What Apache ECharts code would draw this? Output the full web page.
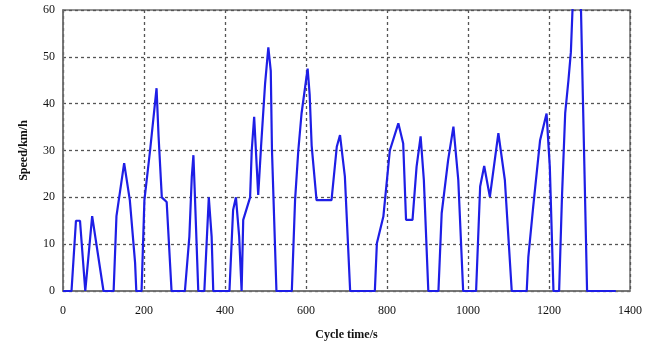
<!DOCTYPE html>
<html>
<head>
<meta charset="utf-8">
<script src="https://cdn.jsdelivr.net/npm/echarts@6/dist/echarts.min.js"></script>
<style>
  html, body { margin: 0; padding: 0; background: #fff; }
  #chart { width: 658px; height: 346px; }
</style>
</head>
<body>
<div id="chart"></div>
<script>
// cycle time (s) and speed (km/h)
const cycleTime = [
  0, 21, 32, 42, 55, 59, 72, 100, 125, 132, 151, 165, 178, 181, 194, 201, 215, 231, 236, 244, 256, 268,
  301, 312, 318, 322, 325, 334, 349, 360, 367, 371, 411, 420, 427, 435, 441, 445, 462, 466, 472, 482, 489, 499, 507, 513, 516, 527,
  565, 573, 581, 589, 604, 609, 614, 626, 663, 676, 684, 696, 709,
  770, 775, 791, 807, 828, 840, 847, 863, 873, 883, 891, 902,
  927, 935, 951, 964, 976, 988, 1020, 1030, 1040, 1054, 1075, 1091, 1108,
  1145, 1149, 1161, 1178, 1194, 1202, 1211, 1225, 1232, 1240, 1248, 1254, 1258, 1268, 1279, 1284, 1294, 1365
];
const speed = [
  0, 0, 15, 15, 0, 0, 16, 0, 0, 16, 27.3, 19.4, 6, 0, 0, 19.4, 30, 43.3, 33, 20, 19, 0,
  0, 11.6, 24.4, 29, 22, 0, 0, 20, 11.6, 0, 0, 17.3, 20, 11.6, 0, 15.2, 20, 30, 37.2, 20.5, 30.8, 44.3, 52, 47, 30, 0,
  0, 19.4, 30, 37.9, 47.5, 42, 31, 19.4, 19.4, 30.8, 33.3, 24.4, 0,
  0, 10.2, 15.9, 30, 35.8, 31.5, 15.2, 15.2, 26.5, 33, 23.7, 0,
  0, 16.6, 28, 35.1, 23.7, 0, 0, 22.3, 26.7, 20.1, 33.7, 23.7, 0,
  0, 7.3, 18, 32.2, 37.9, 26.5, 0, 0, 20, 38, 45, 51, 60, 67, 60, 40, 0, 0
];
const xTicks = { min: 0, max: 1400, step: 200 };
const yTicks = { min: 0, max: 60, step: 10 };

const points = cycleTime.map((t, i) => [t, speed[i]]);

const chart = echarts.init(document.getElementById('chart'));
const labelFont = 'Liberation Serif';

chart.setOption({
  animation: false,
  backgroundColor: '#fff',
  grid: {
    left: 63, right: 28, top: 10, bottom: 55,
    show: true,
    borderColor: '#707070',
    borderWidth: 1.5
  },
  xAxis: {
    type: 'value',
    min: xTicks.min, max: xTicks.max, interval: xTicks.step,
    name: 'Cycle time/s',
    nameLocation: 'middle',
    nameGap: 38,
    nameTextStyle: { fontFamily: labelFont, fontWeight: 'bold', fontSize: 12, color: '#111' },
    axisLine: { lineStyle: { color: '#707070', width: 1.5 } },
    axisTick: { show: false },
    axisLabel: { fontFamily: labelFont, fontSize: 12, color: '#111', margin: 14, formatter: v => String(v) },
    splitLine: { show: true, lineStyle: { color: '#555', type: [3, 3], width: 1.3 } }
  },
  yAxis: {
    type: 'value',
    min: yTicks.min, max: yTicks.max, interval: yTicks.step,
    name: 'Speed/km/h',
    nameLocation: 'middle',
    nameGap: 33,
    nameTextStyle: { fontFamily: labelFont, fontWeight: 'bold', fontSize: 12, color: '#111' },
    axisLine: { show: true, lineStyle: { color: '#707070', width: 1.5 } },
    axisTick: { show: false },
    axisLabel: { fontFamily: labelFont, fontSize: 12, color: '#111', margin: 8 },
    splitLine: { show: true, lineStyle: { color: '#555', type: [3, 3], width: 1.3 } }
  },
  series: [{
    type: 'line',
    data: points,
    showSymbol: false,
    clip: true,
    lineStyle: { color: '#1e1ee6', width: 2.2 }
  }]
});
</script>
</body>
</html>
